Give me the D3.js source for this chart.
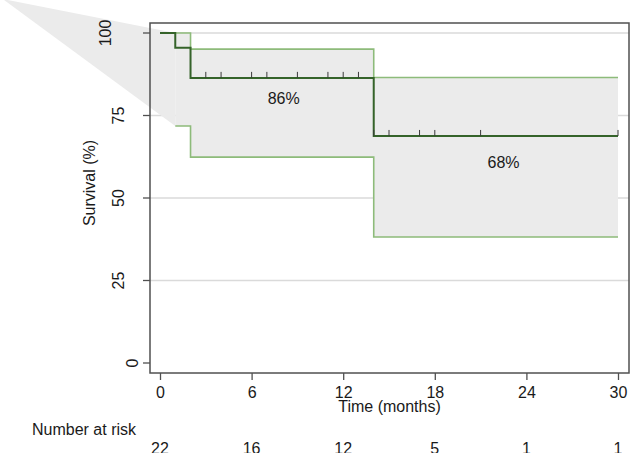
<!DOCTYPE html>
<html>
<head>
<meta charset="utf-8">
<script src="https://cdn.jsdelivr.net/npm/d3@7"></script>
<style>
  body { margin: 0; background: #fff; }
  text { font-family: "Liberation Sans", Arial, Helvetica, sans-serif; fill: #1a1a1a; }
</style>
</head>
<body>
<svg id="chart" width="630" height="453"></svg>
<script>
// Kaplan-Meier estimate
var survTime = [0, 1, 2, 14, 30];
var survPct = [100, 95.5, 86.4, 68.8, 68.8];

// confidence band (starts at first event)
var ciTime = [1, 2, 14, 30];
var ciUpper = [100, 95.1, 86.5, 86.5];
var ciLower = [71.8, 62.4, 38.2, 38.2];

// stray band vertex drawn off the left of the plot
var strayTime = -10.3;
var strayPct = 110.3;

var censorTimes = [3, 4, 6, 7, 9, 11, 12, 13, 14, 15, 17, 18, 21, 30];

var riskTimes = [0, 6, 12, 18, 24, 30];
var riskCounts = [22, 16, 12, 5, 1, 1];

var xTicks = [0, 6, 12, 18, 24, 30];
var yTicks = [0, 25, 50, 75, 100];
var gridTicks = [25, 50, 75, 100];

var estLabels = [
  { t: 8.1, s: 78.5, text: "86%" },
  { t: 22.5, s: 59, text: "68%" }
];

var svg = d3.select("#chart");

var x = d3.scaleLinear().domain([0, 30]).range([160, 618]);
var y = d3.scaleLinear().domain([0, 100]).range([363, 33]);

var frame = { left: 150, right: 629, top: 23, bottom: 373 };

// grid
svg.append("g").selectAll("line")
  .data(gridTicks)
  .enter().append("line")
  .attr("x1", frame.left).attr("x2", frame.right)
  .attr("y1", function(d) { return y(d); })
  .attr("y2", function(d) { return y(d); })
  .attr("stroke", "#dadada")
  .attr("stroke-width", 1.5);

// band
var band = ciTime.map(function(t, i) { return { t: t, lo: ciLower[i], hi: ciUpper[i] }; });

svg.append("path")
  .datum(band)
  .attr("fill", "#ebebeb")
  .attr("d", d3.area()
    .curve(d3.curveStepAfter)
    .x(function(d) { return x(d.t); })
    .y0(function(d) { return y(d.lo); })
    .y1(function(d) { return y(d.hi); }));

svg.append("path")
  .datum([[strayTime, strayPct], [ciTime[0], ciUpper[0]], [ciTime[0], ciLower[0]]])
  .attr("fill", "#ebebeb")
  .attr("d", d3.line()
    .x(function(d) { return x(d[0]); })
    .y(function(d) { return y(d[1]); }));

// confidence limits
var step = function(vals, times) {
  return d3.line()
    .curve(d3.curveStepAfter)
    .x(function(d, i) { return x(times[i]); })
    .y(function(d) { return y(d); })(vals);
};

[ciUpper, ciLower].forEach(function(vals) {
  svg.append("path")
    .attr("d", step(vals, ciTime))
    .attr("fill", "none")
    .attr("stroke", "#8dbb7a")
    .attr("stroke-width", 1.6);
});

// survival curve
svg.append("path")
  .attr("d", step(survPct, survTime))
  .attr("fill", "none")
  .attr("stroke", "#35632a")
  .attr("stroke-width", 2);

// censoring marks
var survAt = function(t) {
  var i = d3.bisectRight(survTime, t) - 1;
  return survPct[Math.max(0, i)];
};

svg.append("g").selectAll("line")
  .data(censorTimes)
  .enter().append("line")
  .attr("x1", function(d) { return x(d); })
  .attr("x2", function(d) { return x(d); })
  .attr("y1", function(d) { return y(survAt(d)); })
  .attr("y2", function(d) { return y(survAt(d)) - 6; })
  .attr("stroke", "#3a3a3a")
  .attr("stroke-width", 1);

// estimate labels
svg.append("g").selectAll("text")
  .data(estLabels)
  .enter().append("text")
  .attr("x", function(d) { return x(d.t); })
  .attr("y", function(d) { return y(d.s); })
  .attr("text-anchor", "middle")
  .attr("font-size", 16)
  .text(function(d) { return d.text; });

// frame
svg.append("rect")
  .attr("x", frame.left).attr("y", frame.top)
  .attr("width", frame.right - frame.left)
  .attr("height", frame.bottom - frame.top)
  .attr("fill", "none")
  .attr("stroke", "#505050")
  .attr("stroke-width", 1.5);

// x axis
var xAxis = svg.append("g")
  .attr("transform", "translate(0," + frame.bottom + ")")
  .call(d3.axisBottom(x).tickValues(xTicks).tickSize(7).tickPadding(7));
xAxis.select(".domain").remove();
xAxis.selectAll(".tick line").attr("stroke", "#505050").attr("stroke-width", 1.3);
xAxis.selectAll(".tick text")
  .attr("font-size", 16)
  .attr("font-family", "Liberation Sans, Arial, sans-serif")
  .attr("fill", "#1a1a1a");

svg.append("text")
  .attr("x", (frame.left + frame.right) / 2)
  .attr("y", 412)
  .attr("text-anchor", "middle")
  .attr("font-size", 16)
  .text("Time (months)");

// y axis
svg.append("g").selectAll("line")
  .data(yTicks)
  .enter().append("line")
  .attr("x1", frame.left - 7).attr("x2", frame.left)
  .attr("y1", function(d) { return y(d); })
  .attr("y2", function(d) { return y(d); })
  .attr("stroke", "#505050")
  .attr("stroke-width", 1.3);

svg.append("g").selectAll("text")
  .data(yTicks)
  .enter().append("text")
  .attr("transform", function(d) {
    var bx = 151 - 13.5 * String(d).length;
    return "translate(" + bx + "," + y(d) + ") rotate(-90)";
  })
  .attr("text-anchor", "middle")
  .attr("font-size", 16)
  .text(function(d) { return d; });

svg.append("text")
  .attr("transform", "translate(95,183) rotate(-90)")
  .attr("text-anchor", "middle")
  .attr("font-size", 16)
  .text("Survival (%)");

// number at risk
svg.append("text")
  .attr("x", 32)
  .attr("y", 435)
  .attr("font-size", 16)
  .text("Number at risk");

svg.append("g").selectAll("text")
  .data(riskCounts)
  .enter().append("text")
  .attr("x", function(d, i) { return x(riskTimes[i]); })
  .attr("y", 454)
  .attr("text-anchor", "middle")
  .attr("font-size", 16)
  .text(function(d) { return d; });
</script>
</body>
</html>
